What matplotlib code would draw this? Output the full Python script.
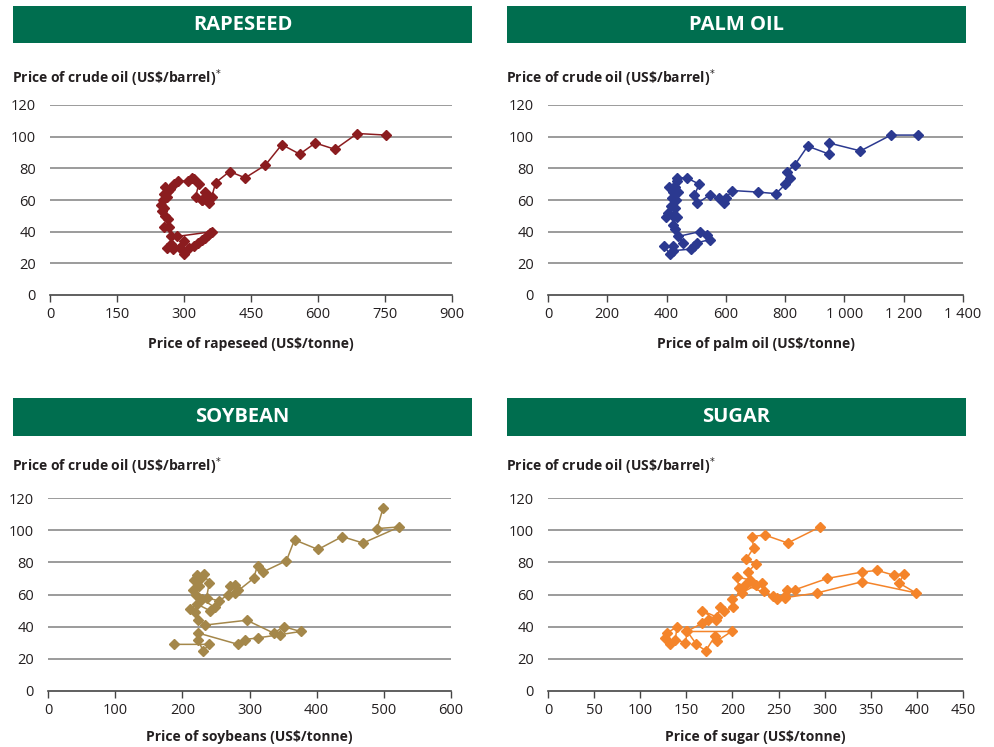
import matplotlib
matplotlib.use('Agg')
import matplotlib.pyplot as plt
from matplotlib.patches import Rectangle

plt.rcParams['font.family'] = ['Open Sans', 'DejaVu Sans']
plt.rcParams['font.size'] = 10.5

# ---- data (monthly pairs: commodity price, crude oil price) ----
rape_x = [300, 290, 270, 262, 275, 299, 312, 322, 332, 340, 347, 353, 358, 363, 285, 272, 266,
          255, 265, 258, 250, 256, 248, 252, 262, 256, 264, 258, 268, 278, 287, 310, 318, 323,
          333, 326, 340, 346, 352, 341, 356, 362, 371, 402, 437, 482, 519, 559, 594, 638, 688, 752]
rape_y = [26, 30, 32, 30, 29, 34, 30, 31, 33, 35, 36, 38, 39, 40, 37, 37, 43,
          43, 48, 50, 53, 55, 57, 60, 62, 64, 66, 68, 67, 70, 72, 72, 74, 73,
          70, 62, 60, 65, 63, 60, 58, 62, 71, 78, 74, 82, 95, 89, 96, 92, 102, 101]

palm_x = [410, 392, 422, 422, 482, 494, 504, 545, 536, 512, 439, 455, 428, 422, 434, 422, 398,
          404, 430, 415, 433, 418, 439, 421, 427, 407, 434, 434, 468, 510, 494, 504, 545, 578,
          594, 600, 621, 709, 769, 801, 817, 807, 832, 876, 948, 948, 1054, 1157, 1247]
palm_y = [26, 31, 31, 28, 29, 31, 33, 35, 38, 40, 37, 33, 42, 44, 49, 50, 49,
          52, 55, 56, 60, 61, 65, 65, 68, 68, 72, 74, 74, 70, 63, 58, 63, 61,
          58, 61, 66, 65, 64, 70, 74, 78, 82, 94, 89, 96, 91, 101, 101]

soy_x = [187, 240, 231, 223, 224, 283, 293, 312, 345, 376, 351, 336, 296, 234, 224, 219, 211,
         222, 241, 248, 230, 220, 216, 225, 218, 228, 222, 232, 240, 236, 255, 268, 278, 271,
         283, 279, 306, 312, 320, 355, 367, 402, 438, 469, 523, 490, 499]
soy_y = [29, 29, 25, 32, 36, 29, 32, 33, 35, 37, 40, 36, 44, 41, 44, 49, 51,
         54, 50, 52, 57, 60, 63, 65, 69, 70, 72, 73, 67, 58, 56, 60, 66, 65,
         63, 61, 70, 78, 74, 81, 94, 88, 96, 92, 102, 101, 114]

sugar_x = [132, 127, 129, 140, 138, 149, 151, 161, 171, 181, 183, 199, 150, 167, 173, 182, 167,
           183, 187, 191, 201, 199, 210, 226, 232, 234, 244, 248, 257, 259, 268, 303, 341, 357,
           375, 386, 381, 399, 341, 292, 257, 248, 214, 207, 205, 219, 217, 225, 215, 223, 221,
           235, 260, 295]
sugar_y = [29, 33, 36, 40, 32, 30, 37, 29, 25, 34, 31, 37, 37, 42, 44, 44, 50,
           46, 52, 50, 52, 57, 61, 66, 67, 62, 59, 57, 59, 63, 63, 70, 74, 75,
           72, 73, 67, 61, 68, 61, 58, 58, 66, 64, 71, 69, 74, 79, 82, 89, 96,
           97, 92, 102]

panels = [
    dict(title='RAPESEED', x=rape_x, y=rape_y, color='#8B1C1F',
         xlim=900, xticks=[0, 150, 300, 450, 600, 750, 900],
         xticklabels=['0', '150', '300', '450', '600', '750', '900'],
         xlabel='Price of rapeseed (US$/tonne)',
         header=(13, 6, 472, 43), axes=(50, 105, 452, 295), ylab_y=78, xlab_y=344),
    dict(title='PALM OIL', x=palm_x, y=palm_y, color='#2B3990',
         xlim=1400, xticks=[0, 200, 400, 600, 800, 1000, 1200, 1400],
         xticklabels=['0', '200', '400', '600', '800', '1 000', '1 200', '1 400'],
         xlabel='Price of palm oil (US$/tonne)',
         header=(507, 6, 966, 43), axes=(548, 105, 963, 295), ylab_y=78, xlab_y=344),
    dict(title='SOYBEAN', x=soy_x, y=soy_y, color='#A4874A',
         xlim=600, xticks=[0, 100, 200, 300, 400, 500, 600],
         xticklabels=['0', '100', '200', '300', '400', '500', '600'],
         xlabel='Price of soybeans (US$/tonne)',
         header=(13, 398, 472, 436), axes=(48, 498, 451, 691), ylab_y=466, xlab_y=737),
    dict(title='SUGAR', x=sugar_x, y=sugar_y, color='#F4842A',
         xlim=450, xticks=[0, 50, 100, 150, 200, 250, 300, 350, 400, 450],
         xticklabels=['0', '50', '100', '150', '200', '250', '300', '350', '400', '450'],
         xlabel='Price of sugar (US$/tonne)',
         header=(507, 398, 966, 436), axes=(548, 498, 963, 691), ylab_y=466, xlab_y=737),
]

W, H = 994, 747
fig = plt.figure(figsize=(W / 100, H / 100), dpi=100)
green = '#006E4F'


def frac(x0, y0, x1, y1):
    # pixel box (top-left origin) -> figure fraction rect
    return [x0 / W, 1 - y1 / H, (x1 - x0) / W, (y1 - y0) / H]


for p in panels:
    hx0, hy0, hx1, hy1 = p['header']
    fig.patches.append(Rectangle((hx0 / W, 1 - hy1 / H), (hx1 - hx0) / W, (hy1 - hy0) / H,
                                 transform=fig.transFigure, facecolor=green, edgecolor='none'))
    fig.text((hx0 + hx1) / 2 / W, 1 - (hy0 + hy1) / 2 / H, p['title'], color='white',
             fontsize=14.5, fontweight='bold', ha='center', va='center')

    ax = fig.add_axes(frac(*p['axes']))
    ax.plot(p['x'], p['y'], color=p['color'], lw=1.1, marker='D', ms=5.5,
            mec=p['color'], mfc=p['color'], zorder=3)
    ax.set_xlim(0, p['xlim'])
    ax.set_ylim(0, 120)
    ax.set_yticks(range(0, 121, 20))
    ax.set_xticks(p['xticks'])
    ax.set_xticklabels(p['xticklabels'])
    for v in range(20, 121, 20):
        ax.axhline(v, color='#8a8a8a', lw=1.2, zorder=1)
    for s in ['top', 'right', 'left']:
        ax.spines[s].set_visible(False)
    ax.spines['bottom'].set_color('#444444')
    ax.spines['bottom'].set_linewidth(1.2)
    ax.tick_params(axis='y', length=0, pad=10, labelsize=10.5, colors='#231f20')
    ax.tick_params(axis='x', length=5, width=1, color='#444444', pad=4,
                   labelsize=10.5, labelcolor='#231f20')

    fig.text((hx0 - 1) / W, 1 - p['ylab_y'] / H, r'Price of crude oil (US\$/barrel)$^{*}$',
             fontsize=10, fontweight='bold', ha='left', va='center', color='#231f20')
    fig.text((p['axes'][0] + p['axes'][2]) / 2 / W, 1 - p['xlab_y'] / H, p['xlabel'],
             fontsize=10, fontweight='bold', ha='center', va='center', color='#231f20')

fig.savefig('out.png', dpi=100)
